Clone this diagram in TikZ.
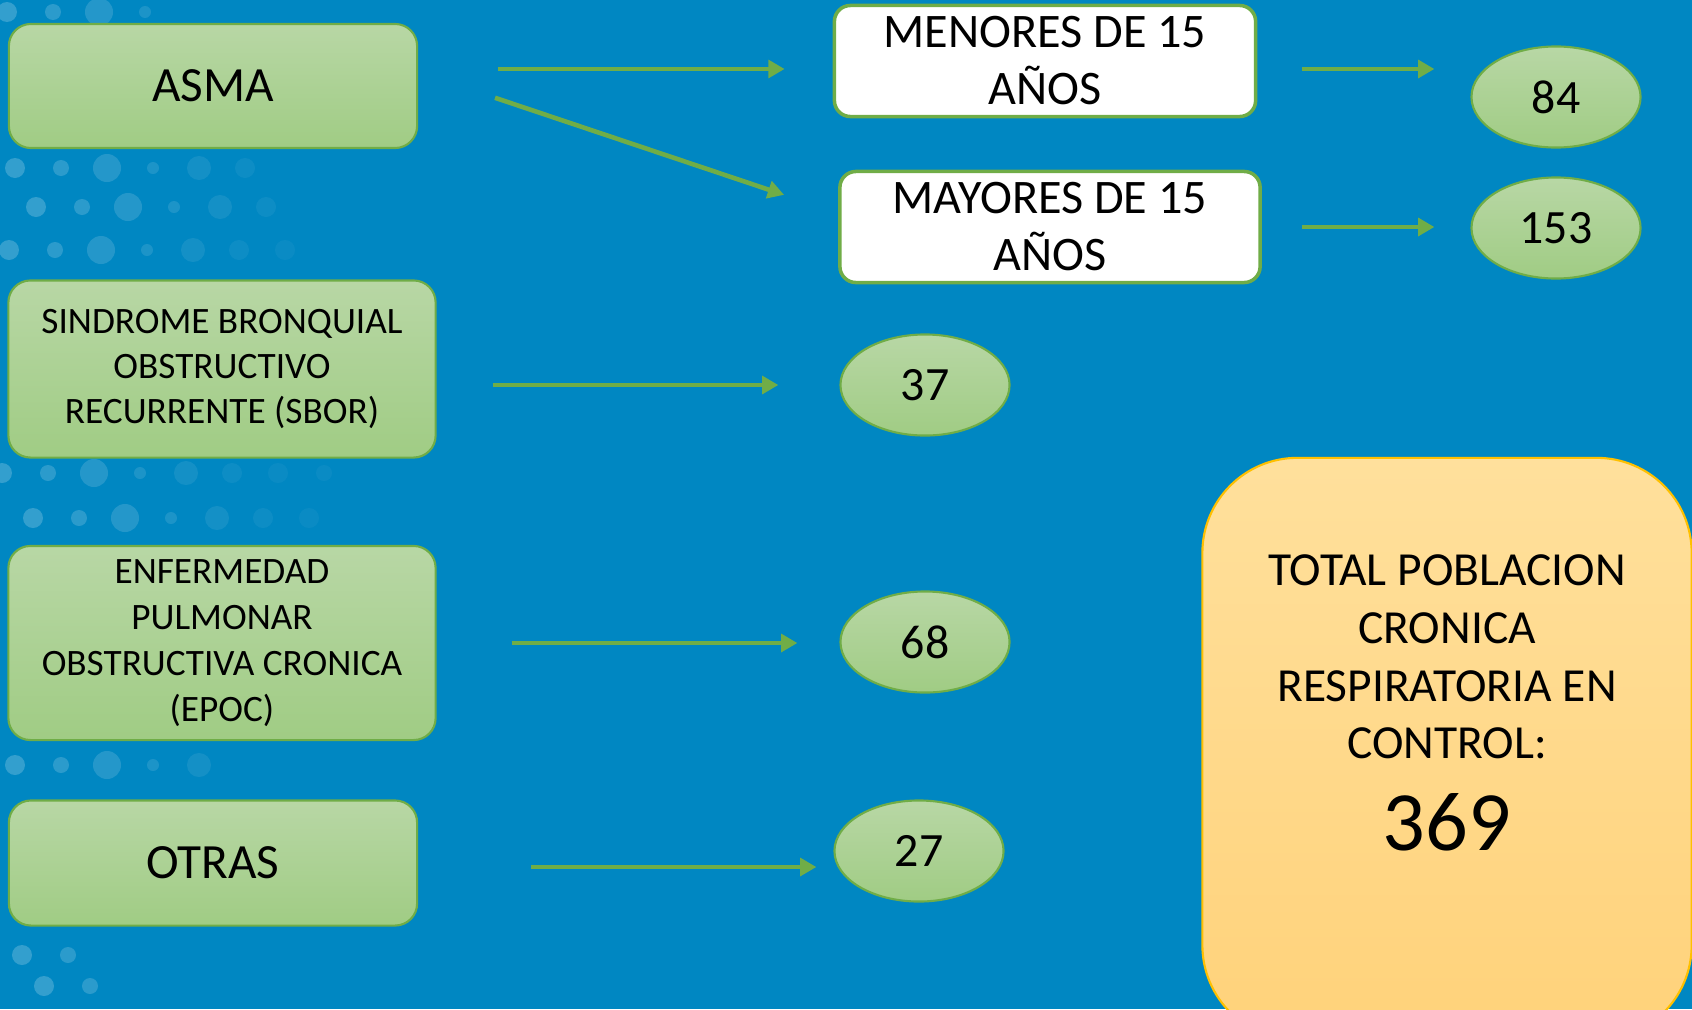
\documentclass[tikz,border=0pt]{standalone}
\usepackage{fontspec}
\setmainfont{Carlito}
\usetikzlibrary{arrows.meta,shapes.geometric}

\begin{document}
\begin{tikzpicture}[x=.01cm,y=-.01cm,
  caja/.style={draw=verde,line width=.6pt,rounded corners=.22cm,
    top color=vclaro,bottom color=voscuro,align=center,inner sep=0pt},
  blanca/.style={draw=verde,line width=1pt,fill=white,rounded corners=.16cm,
    align=center,inner sep=0pt,minimum height=1.11cm,
    font=\fontsize{13.7}{16.2}\selectfont},
  cifra/.style={ellipse,draw=verde,line width=.6pt,top color=vclaro,
    bottom color=voscuro,inner sep=0pt,minimum width=1.69cm,
    minimum height=1.01cm,font=\fontsize{13.6}{16}\selectfont},
  flecha/.style={draw=verde,line width=1.3pt,
    -{Triangle[length=4.6pt,width=5pt]}}]
 \definecolor{fondo}{RGB}{0,135,194}
 \definecolor{verde}{RGB}{112,173,71}
 \definecolor{vclaro}{RGB}{184,215,165}
 \definecolor{voscuro}{RGB}{160,204,132}
 \definecolor{oro}{RGB}{255,192,0}
 \definecolor{oclaro}{RGB}{255,224,156}
 \definecolor{ooscuro}{RGB}{255,210,122}
 \clip (0,0) rectangle (1692,1009);
 \fill[fondo] (0,0) rectangle (1692,1009);
 % puntos del fondo
 \foreach \yy/\xo/\n in {
   12/7/3, 168/15/5, 207/36/5, 250/9/6,
   473/2/7, 518/33/6, 765/15/4, 955/22/1, 986/44/1
 } {
   \foreach \i in {0,...,\n} {
     \pgfmathsetmacro{\op}{max(.04,.2-.03*\i)}
     \pgfmathsetmacro{\rr}{6+4*mod(\i+1,2)+2*mod(\i,3)}
     \fill[white,opacity=\op] (\xo+46*\i,\yy) circle (\rr);
   }
 }
 % columna izquierda
 \node[caja,minimum width=4.08cm,minimum height=1.24cm,
   font=\fontsize{14}{17}\selectfont] (asma) at (213,86) {ASMA};
 \node[caja,minimum width=4.27cm,minimum height=1.77cm,
   font=\fontsize{10.6}{12.9}\selectfont] (sbor) at (222,369)
   {SINDROME BRONQUIAL\\OBSTRUCTIVO\\RECURRENTE (SBOR)};
 \node[caja,minimum width=4.27cm,minimum height=1.94cm,
   font=\fontsize{10.6}{13.1}\selectfont] (epoc) at (222,643)
   {ENFERMEDAD\\PULMONAR\\OBSTRUCTIVA CRONICA\\(EPOC)};
 \node[caja,minimum width=4.08cm,minimum height=1.25cm,
   font=\fontsize{14}{17}\selectfont] (otras) at (213,863) {OTRAS};
 % grupos de edad
 \node[blanca,minimum width=4.21cm] (menores) at (1045,61)
   {MENORES DE 15\\AÑOS};
 \node[blanca,minimum width=4.2cm] (mayores) at (1050,227)
   {MAYORES DE 15\\AÑOS};
 % cifras
 \node[cifra] (n84) at (1556,97) {84};
 \node[cifra] (n153) at (1556,228) {153};
 \node[cifra] (n37) at (925,385) {37};
 \node[cifra] (n68) at (925,642) {68};
 \node[cifra] (n27) at (919,851) {27};
 % total
 \node[draw=oro,line width=.6pt,top color=oclaro,bottom color=ooscuro,
   rounded corners=.95cm,minimum width=4.89cm,minimum height=5.82cm]
   (total) at (1447,749) {};
 \node[align=center,font=\fontsize{13.5}{16.4}\selectfont]
   (totaltxt) at ([yshift=.92cm]total.center)
   {TOTAL POBLACION\\CRONICA\\RESPIRATORIA EN\\CONTROL:};
 \node[font=\fontsize{24}{28}\selectfont]
   (totalnum) at ([yshift=-.73cm]total.center) {369};
 % flechas
 \draw[flecha,shorten <=.8cm,shorten >=.48cm]
   ([yshift=.17cm]asma.east) -- ([yshift=.17cm]asma.east -| menores.west);
 \draw[flecha,shorten <=.81cm,shorten >=.57cm]
   ([yshift=.14cm]asma.east) -- ([yshift=.14cm]mayores.west);
 \draw[flecha,shorten <=.45cm,shorten >=.36cm]
   ([yshift=-.08cm]menores.east) -- ([yshift=-.08cm]menores.east -| n84.west);
 \draw[flecha,shorten <=.4cm,shorten >=.36cm]
   (mayores.east) -- (mayores.east -| n153.west);
 \draw[flecha,shorten <=.56cm,shorten >=.61cm]
   (sbor.east |- n37.west) -- (n37.west);
 \draw[flecha,shorten <=.75cm,shorten >=.42cm]
   (epoc.east) -- (epoc.east -| n68.west);
 \draw[flecha,shorten <=1.13cm,shorten >=.17cm]
   ([yshift=-.04cm]otras.east) -- ([yshift=-.04cm]otras.east -| n27.west);
\end{tikzpicture}
\end{document}
